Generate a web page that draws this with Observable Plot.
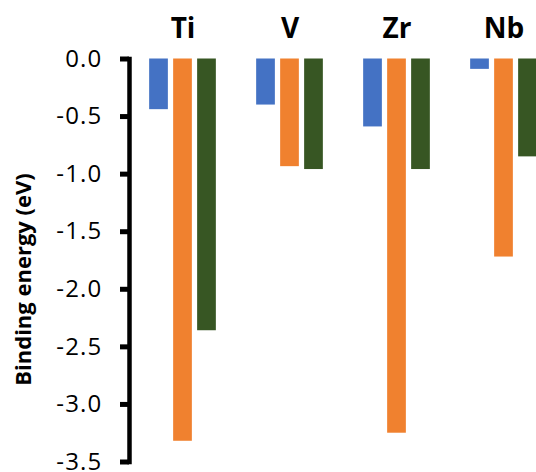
<!DOCTYPE html>
<html>
<head>
<meta charset="utf-8">
<script src="https://cdn.jsdelivr.net/npm/d3@7"></script>
<script src="https://cdn.jsdelivr.net/npm/@observablehq/plot@0.6"></script>
<style>
  html, body { margin: 0; padding: 0; background: #fff; overflow: hidden; }
  #chart svg { overflow: hidden; display: block; }
</style>
</head>
<body>
<div id="chart"></div>
<script>
// ---- data ----
const groups = ["Ti", "V", "Zr", "Nb"];
const seriesNames = ["Series 1", "Series 2", "Series 3"];
const series1 = [-0.44, -0.40, -0.59, -0.09];
const series2 = [-3.32, -0.935, -3.25, -1.72];
const series3 = [-2.36, -0.96, -0.96, -0.85];
const seriesColors = ["#4472C4", "#F0812F", "#375623"];
const yTicks = [0, -0.5, -1.0, -1.5, -2.0, -2.5, -3.0, -3.5];
const yTitle = "Binding energy (eV)";

const values = [series1, series2, series3];
const table = [];
groups.forEach((g, i) => {
  seriesNames.forEach((s, j) => {
    table.push({group: g, series: s, value: values[j][i]});
  });
});

const chart = Plot.plot({
  width: 536,
  height: 472,
  marginLeft: 129,
  marginRight: -21,
  marginTop: 58.5,
  marginBottom: 10.5,
  style: {fontFamily: "'Open Sans', sans-serif", background: "#fff", color: "#000"},
  fx: {domain: groups, padding: 0, axis: null, label: null},
  x: {domain: seriesNames, paddingInner: 0.22, paddingOuter: 0.84, axis: null, round: false},
  y: {domain: [-3.5, 0], axis: null},
  color: {domain: seriesNames, range: seriesColors},
  marks: [
    Plot.barY(table, {fx: "group", x: "series", y: "value", fill: "series"}),
    Plot.axisY({
      ticks: yTicks,
      tickFormat: d => d.toFixed(1),
      tickSize: 9,
      tickPadding: 18,
      strokeWidth: 5,
      fontSize: 24,
      label: null
    }),
    Plot.frame({anchor: "left", facet: "super", stroke: "#000", strokeWidth: 4.5, strokeLinecap: "square"}),
    Plot.text(groups, {fx: d => d, text: d => d, frameAnchor: "top", dy: -21, lineAnchor: "bottom", fontSize: 28, fontWeight: "bold"}),
    Plot.text([yTitle], {facet: "super", frameAnchor: "left", textAnchor: "middle", rotate: -90, dx: -106, dy: 19, fontSize: 22, fontWeight: "bold"})
  ]
});
chart.querySelectorAll("g[aria-label='y-axis tick label'] text").forEach(t => t.setAttribute("letter-spacing", "1.2"));
document.getElementById("chart").appendChild(chart);
</script>
</body>
</html>
